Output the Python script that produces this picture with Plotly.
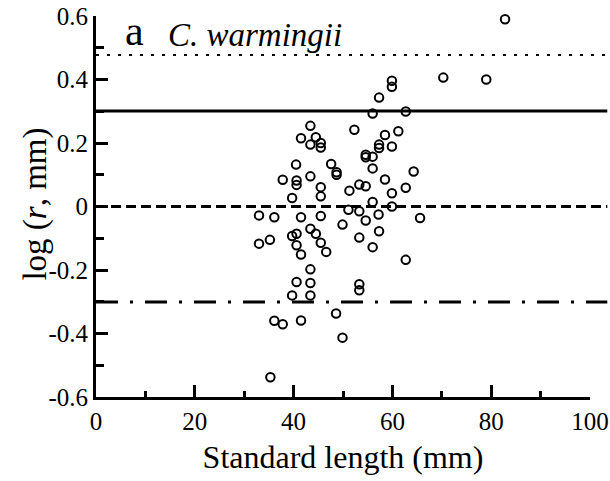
import plotly.graph_objects as go

# Data
sl = [82.8, 70.3, 79.0, 59.9, 59.9, 57.3, 56.0, 62.7, 52.3, 58.5,
      61.2, 57.3, 57.3, 59.9, 54.6, 54.6, 56.0, 56.0, 64.3, 58.5,
      53.3, 54.6, 51.3, 62.7, 59.9, 56.0, 59.9, 51.1, 53.3, 57.2,
      54.6, 65.6, 43.4, 41.5, 44.5, 43.4, 45.5, 45.5, 40.5, 47.6,
      48.7, 48.7, 37.8, 40.6, 40.6, 43.4, 45.5, 45.5, 39.7, 33.0,
      36.1, 41.5, 45.5, 49.9, 43.4, 44.5, 40.6, 39.7, 33.0, 35.2,
      40.6, 45.5, 41.5, 46.6, 53.3, 57.3, 56.0, 62.7, 43.4, 40.6,
      43.4, 39.7, 43.4, 53.3, 53.3, 48.6, 36.1, 37.8, 41.5, 49.9,
      35.3]
logr = [0.590, 0.406, 0.400, 0.396, 0.377, 0.343, 0.293, 0.299, 0.242, 0.225,
        0.237, 0.195, 0.184, 0.189, 0.163, 0.155, 0.157, 0.120, 0.110, 0.085,
        0.069, 0.064, 0.050, 0.059, 0.042, 0.014, 0.000, -0.010, -0.015, -0.025,
        -0.044, -0.036, 0.254, 0.215, 0.218, 0.195, 0.200, 0.186, 0.132, 0.134,
        0.108, 0.100, 0.084, 0.082, 0.068, 0.095, 0.061, 0.032, 0.027, -0.028,
        -0.034, -0.034, -0.030, -0.057, -0.070, -0.086, -0.086, -0.093, -0.117, -0.105,
        -0.122, -0.114, -0.151, -0.143, -0.098, -0.078, -0.128, -0.168, -0.198, -0.238,
        -0.241, -0.280, -0.280, -0.245, -0.264, -0.337, -0.360, -0.371, -0.359, -0.413,
        -0.538]

# Reference levels: log 3, log 2, log 1, log 0.5
ref_levels = [0.477, 0.301, 0.0, -0.301]
ref_dash = ["dot", "solid", "dash", "dashdot"]

x_ticks = [0, 20, 40, 60, 80, 100]
y_ticks = [-0.6, -0.4, -0.2, 0, 0.2, 0.4, 0.6]
y_ticktext = ["-0.6", "-0.4", "-0.2", "0", "0.2", "0.4", "0.6"]

FONT = "Liberation Serif, Times New Roman, serif"
L, R, T, B = 95.5, 20, 16, 84
PW, PH = 610 - L - R, 481 - T - B


def px_x(px):
    return (px - L) / PW


def px_y(py):
    return 1 - (py - T) / PH


fig = go.Figure()
fig.add_trace(go.Scatter(
    x=sl, y=logr, mode="markers", cliponaxis=False,
    marker=dict(symbol="circle-open", size=8.5, color="black",
                line=dict(width=2, color="black")),
    showlegend=False))

dash_map = {"dot": "3px,8px", "solid": "solid", "dash": "10px,5px",
            "dashdot": "22px,12px,3px,12px"}
width_map = {"dot": 2, "solid": 3, "dash": 3, "dashdot": 3}
for lv, d in zip(ref_levels, ref_dash):
    fig.add_shape(type="line", xref="paper", yref="y", x0=0, x1=1.035,
                  y0=lv, y1=lv,
                  line=dict(color="black", width=width_map[d], dash=dash_map[d]))

fig.update_xaxes(
    range=[0, 100], tickvals=x_ticks, ticks="inside", ticklen=12, tickwidth=2.5,
    tickcolor="black", showline=True, linecolor="black", linewidth=3,
    showgrid=False, zeroline=False, automargin=False,
    minor=dict(dtick=10, tick0=0, ticks="inside", ticklen=6, tickwidth=2.5, tickcolor="black"),
    tickfont=dict(family=FONT, size=25, color="black"),
    title=dict(text="Standard length (mm)", font=dict(family=FONT, size=32, color="black"),
               standoff=12))
fig.update_yaxes(
    range=[-0.6, 0.6], tickvals=y_ticks, ticktext=y_ticktext, ticks="inside",
    ticklen=12, tickwidth=2.5, tickcolor="black", showline=True, linecolor="black",
    linewidth=3, showgrid=False, zeroline=False, automargin=False,
    minor=dict(dtick=0.1, tick0=0, ticks="inside", ticklen=8, tickwidth=2.5, tickcolor="black"),
    tickfont=dict(family=FONT, size=25, color="black"))

# y-axis title placed as rotated text
fig.add_annotation(text="log (<i>r</i>, mm)", xref="paper", yref="paper",
                   x=px_x(35), y=px_y(204), xanchor="center", yanchor="middle",
                   textangle=-90, showarrow=False,
                   font=dict(family=FONT, size=33, color="black"))

fig.add_annotation(text="a", xref="paper", yref="paper", x=px_x(123),
                   y=px_y(31), xanchor="left", yanchor="middle",
                   showarrow=False, font=dict(family=FONT, size=42, color="black"))
fig.add_annotation(text="<i>C. warmingii</i>", xref="paper", yref="paper",
                   x=px_x(166), y=px_y(35), xanchor="left",
                   yanchor="middle", showarrow=False,
                   font=dict(family=FONT, size=33, color="black"))

fig.update_layout(
    width=610, height=481, margin=dict(l=L, r=R, t=T, b=B, autoexpand=False),
    paper_bgcolor="white", plot_bgcolor="white")

fig.write_html("out.html")
